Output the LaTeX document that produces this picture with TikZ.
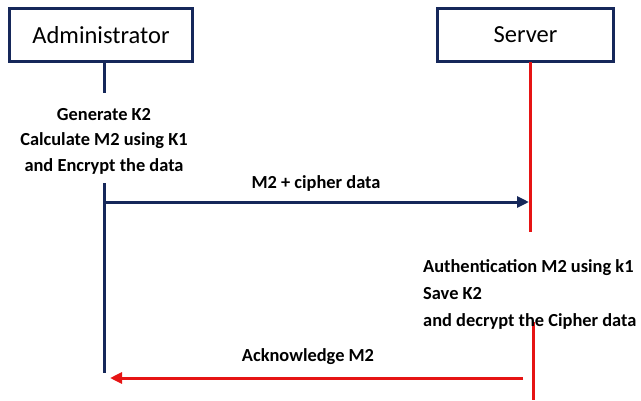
\documentclass[tikz,border=0pt]{standalone}
\usepackage{fontspec}
\setmainfont{Carlito}
\usetikzlibrary{arrows.meta}
\definecolor{navy}{RGB}{22,40,90}
\definecolor{lred}{RGB}{230,20,20}
\begin{document}
\begin{tikzpicture}[x=1pt,y=-1pt,
  actor/.style={draw=navy,line width=3pt,minimum width=183pt,minimum height=53pt,font=\fontsize{24.5}{28}\selectfont,inner sep=0pt},
  note/.style={font=\bfseries\fontsize{18.4}{25.5}\selectfont,inner sep=0pt},
  navyline/.style={draw=navy,line width=3pt},
  redline/.style={draw=lred,line width=3pt},
  tip/.style={-{Triangle[length=12pt,width=11pt]}}]
\useasboundingbox (0,0) rectangle (641,400);
\node[actor] (admin) at (101,35) {Administrator};
\node[actor,minimum width=176pt] (server) at (525.5,35) {Server};
% admin lifeline
\coordinate (a1) at (104,62);
\coordinate (a2) at (104,93);
\coordinate (a3) at (104,183);
\coordinate (a4) at (104,373);
\draw[navyline] (a1) -- (a2);
\draw[navyline] (a3) -- (a4);
% server lifeline
\coordinate (s1) at (530,62);
\coordinate (s2) at (530,232);
\coordinate (s3) at (533,322);
\coordinate (s4) at (533,400);
\draw[redline] (s1) -- (s2);
\draw[redline] (s3) -- (s4);
% notes
\node[note,align=center] (gen) at (104,141) {Generate K2\\Calculate M2 using K1\\and Encrypt the data};
\node[note,align=left,anchor=west,font=\bfseries\fontsize{18.4}{27}\selectfont] (auth) at (423,294) {Authentication M2 using k1\\Save K2\\and decrypt the Cipher data};
% messages
\coordinate (m1s) at (104,202);
\coordinate (m1e) at (529,202);
\draw[navyline,tip] (m1s) -- (m1e);
\node[note] (m1l) at (316,183) {M2 + cipher data};
\coordinate (m2s) at (523,378);
\coordinate (m2e) at (110,378);
\draw[redline,tip] (m2s) -- (m2e);
\node[note] (m2l) at (308,357) {Acknowledge M2};
\end{tikzpicture}
\end{document}
